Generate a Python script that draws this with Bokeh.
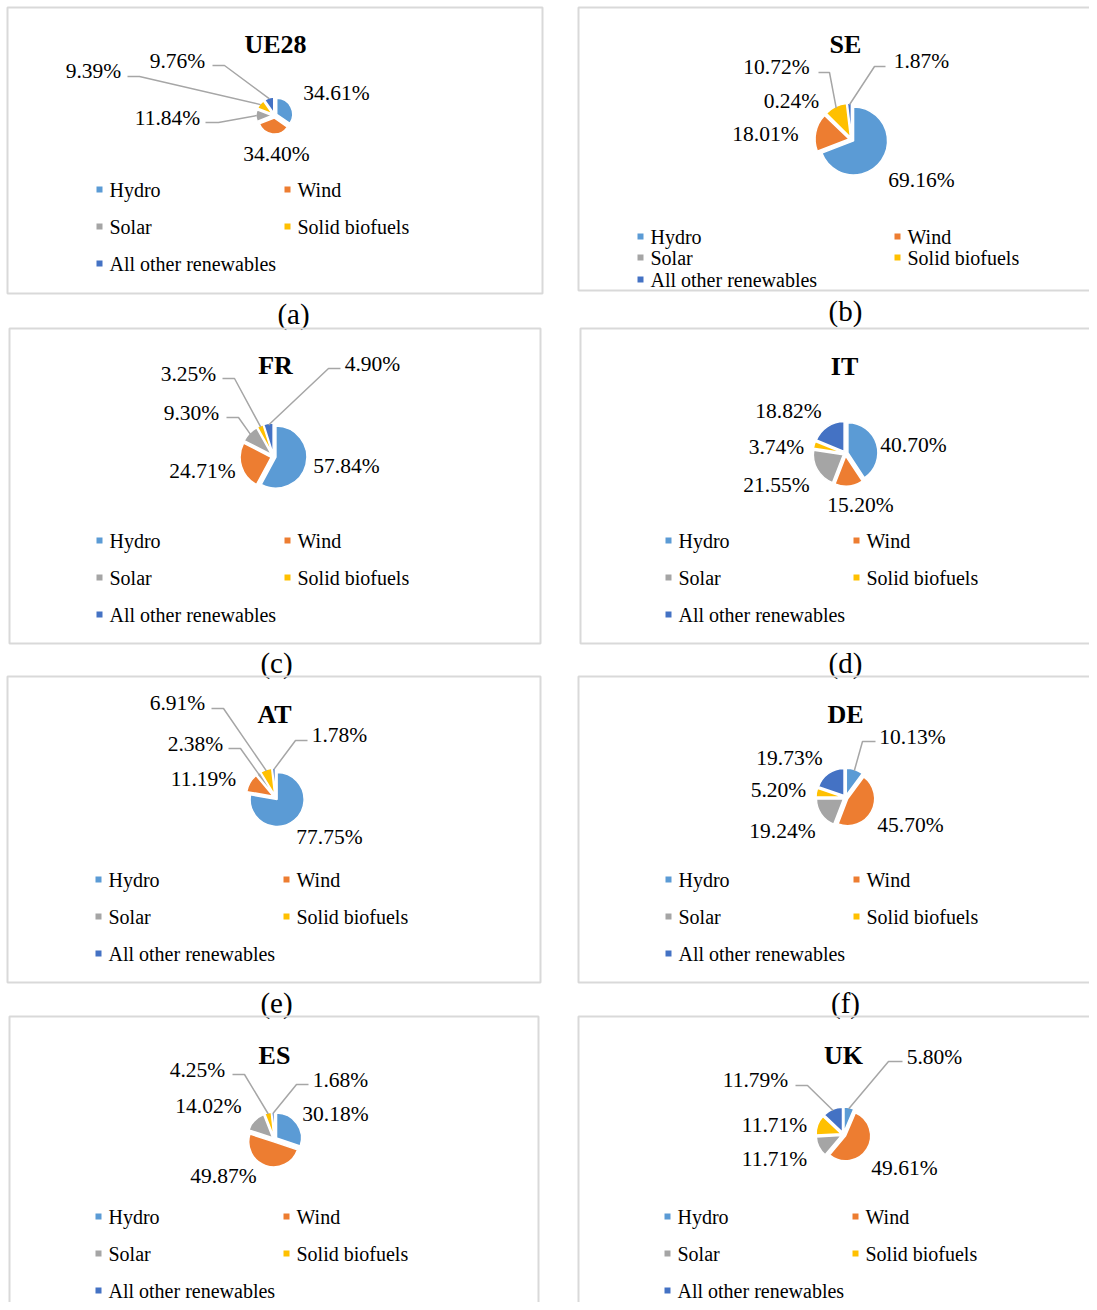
import math
from bokeh.plotting import figure
from bokeh.models import Range1d
from bokeh.core.properties import value
from bokeh.embed import file_html
from bokeh.resources import INLINE

# ---------------- data ----------------
categories = ["Hydro", "Wind", "Solar", "Solid biofuels", "All other renewables"]
countries = ["UE28", "SE", "FR", "IT", "AT", "DE", "ES", "UK"]
captions = ["(a)", "(b)", "(c)", "(d)", "(e)", "(f)", None, None]
hydro = [34.61, 69.16, 57.84, 40.70, 77.75, 10.13, 30.18, 5.80]
wind = [34.40, 18.01, 24.71, 15.20, 11.19, 45.70, 49.87, 49.61]
solar = [11.84, 0.24, 9.30, 21.55, 2.38, 19.24, 14.02, 11.71]
biofuels = [9.39, 10.72, 3.25, 3.74, 6.91, 5.20, 4.25, 11.71]
other = [9.76, 1.87, 4.90, 18.82, 1.78, 19.73, 1.68, 11.79]

colors = ["#5B9BD5", "#ED7D31", "#A5A5A5", "#FFC000", "#4472C4"]

# ---------------- layout (pixel positions from page top-left) ----------------
W, H = 1097, 1310
def Y(y):
    return H - y

boxes = [(7, 7, 542, 293), (578, 7, 1100, 290), (9, 328, 540, 643), (580, 328, 1100, 643),
         (7, 676, 540, 982), (578, 676, 1100, 982), (9, 1016, 538, 1320), (578, 1016, 1100, 1320)]
pie_c = [(274, 115, 16), (851, 139, 34), (273, 456, 31), (845, 453, 30),
         (275, 797, 27), (845, 797, 27), (274, 1139, 25), (843, 1134, 25)]
title_pos = [(275, 44), (845, 44), (275, 365), (844, 366), (274, 714), (845, 714), (274, 1055), (843, 1055)]
cap_pos = [(293, 313), (845, 310), (276, 662), (845, 662), (276, 1002), (845, 1002), None, None]
leg_x = [(99, 287), (640, 897), (99, 287), (668, 856), (98, 286), (668, 856), (98, 286), (667, 855)]
leg_y = [(189, 226, 263), (236, 257, 279), (540, 577, 614), (540, 577, 614),
         (879, 916, 953), (879, 916, 953), (1216, 1253, 1290), (1216, 1253, 1290)]
# label centre for each slice, and optional leader (x_start, x_knee, y)
label_pos = [
    [(336, 92), (276, 153), (167, 117), (93, 70), (177, 60)],
    [(921, 179), (765, 133), (791, 100), (776, 66), (921, 60)],
    [(346, 465), (202, 470), (191, 412), (188, 373), (372, 363)],
    [(913, 444), (860, 504), (776, 484), (776, 446), (788, 410)],
    [(329, 836), (203, 778), (195, 743), (177, 702), (339, 734)],
    [(912, 736), (910, 824), (782, 830), (778, 789), (789, 757)],
    [(335, 1113), (223, 1175), (208, 1105), (197, 1069), (340, 1079)],
    [(934, 1056), (904, 1167), (774, 1158), (774, 1124), (755, 1079)],
]
leaders = [
    [None, None, (205, 218, 122), (127, 139, 76), (212, 224, 65)],
    [None, None, None, (818, 829, 72), (885, 874, 66)],
    [None, None, (226, 238, 417), (222, 234, 378), (340, 328, 368)],
    [None, None, None, None, None],
    [None, None, (228, 240, 748), (211, 223, 708), (307, 295, 740)],
    [(875, 862, 741), None, None, None, None],
    [None, None, None, (232, 244, 1074), (308, 296, 1084)],
    [(902, 888, 1061), None, None, None, (795, 807, 1085)],
]

SERIF = value("Liberation Serif")
EXPLODE = 2.5

p = figure(width=W - 8, height=H - 8, x_range=Range1d(0, W - 8), y_range=Range1d(8, H),
           output_backend="svg", toolbar_location=None, min_border=0,
           x_axis_location=None, y_axis_location=None, outline_line_color=None)
p.xgrid.visible = False
p.ygrid.visible = False
p.background_fill_color = "white"
p.border_fill_color = "white"

for k, name in enumerate(countries):
    vals = [hydro[k], wind[k], solar[k], biofuels[k], other[k]]
    total = sum(vals)
    # panel border
    x0, y0, x1, y1 = boxes[k]
    p.quad(left=x0, right=x1, top=Y(y0), bottom=Y(y1), fill_color=None,
           line_color="#D9D9D9", line_width=2)
    cx, cy, r = pie_c[k]
    cum = 0.0
    xs, ys, sa, ea, cols, ex_list = [], [], [], [], [], []
    for i, v in enumerate(vals):
        c0 = cum / total
        cum += v
        c1 = cum / total
        mid = math.pi / 2 - 2 * math.pi * (c0 + c1) / 2
        ox = cx + EXPLODE * math.cos(mid)
        oy = Y(cy) + EXPLODE * math.sin(mid)
        xs.append(ox); ys.append(oy)
        sa.append(math.pi / 2 - 2 * math.pi * c1)
        ea.append(math.pi / 2 - 2 * math.pi * c0)
        cols.append(colors[i])
        ex_list.append((ox + 0.95 * r * math.cos(mid), oy + 0.95 * r * math.sin(mid)))
    p.wedge(x=xs, y=ys, radius=r, start_angle=sa, end_angle=ea, fill_color=cols,
            line_color="white", line_width=1.5)
    # leaders
    lx, ly = [], []
    for i in range(5):
        ld = leaders[k][i]
        if ld is not None:
            a, b, yy = ld
            ex, ey = ex_list[i]
            lx.append([a, b, ex]); ly.append([Y(yy), Y(yy), ey])
    if lx:
        p.multi_line(xs=lx, ys=ly, line_color="#A6A6A6", line_width=1.5)
    # value labels
    p.text(x=[q[0] for q in label_pos[k]], y=[Y(q[1]) for q in label_pos[k]],
           text=["%.2f%%" % v for v in vals], text_font=SERIF, text_font_size="21.5px",
           text_align="center", text_baseline="middle", text_color="#000000")
    # title
    tx, ty = title_pos[k]
    p.text(x=[tx], y=[Y(ty)], text=[name], text_font=SERIF, text_font_size="26px",
           text_font_style="bold", text_align="center", text_baseline="middle", text_color="#000000")
    # legend
    mx, my, mt, mc = [], [], [], []
    for i, cat in enumerate(categories):
        col = i % 2
        row = i // 2
        mx.append(leg_x[k][col]); my.append(Y(leg_y[k][row])); mt.append(cat); mc.append(colors[i])
    p.scatter(x=mx, y=my, marker="square", size=6, fill_color=mc, line_color=None)
    p.text(x=[v + 10 for v in mx], y=my, text=mt, text_font=SERIF, text_font_size="20px",
           text_align="left", text_baseline="middle", text_color="#000000")
    # caption
    if captions[k] is not None:
        cxp, cyp = cap_pos[k]
        p.text(x=[cxp], y=[Y(cyp)], text=[captions[k]], text_font=SERIF, text_font_size="29px",
               text_align="center", text_baseline="middle", text_color="#000000")

open("out.html", "w").write(file_html(p, INLINE))
